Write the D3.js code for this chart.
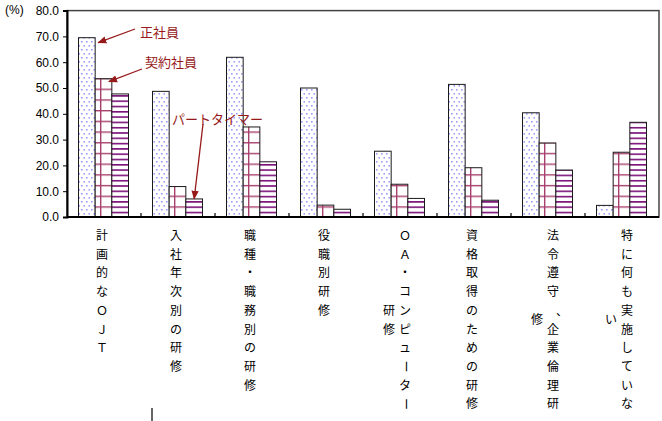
<!DOCTYPE html>
<html>
<head>
<meta charset="utf-8">
<script src="https://cdn.jsdelivr.net/npm/d3@7"></script>
<style>
  body { margin: 0; background: #fff; }
  svg { display: block; }
  .tick text { font-family: Arial, "Liberation Sans", sans-serif; font-size: 12px; fill: #000; }
</style>
</head>
<body>
<div id="chart"></div>
<script>
// categories, one entry per column of stacked vertical text
var categories = ["計画的なOJT", "入社年次別の研修", "職種・職務別の研修", "役職別研修",
                  "OA・コンピューター研修", "資格取得のための研修", "法令遵守、企業倫理研修", "特に何も実施していない"];
var labelColumns = [
    ["計画的なＯＪＴ"],
    ["入社年次別の研修"],
    ["職種・職務別の研修"],
    ["役職別研修"],
    ["ＯＡ・コンピューター", "研修"],
    ["資格取得のための研修"],
    ["法令遵守、企業倫理研", "修"],
    ["特に何も実施していな", "い"]
];
var seriesNames = ["正社員", "契約社員", "パートタイマー"];
var seiShain   = [69.5, 48.7, 61.9, 50.0, 25.5, 51.4, 40.4, 4.5];
var keiyaku    = [53.6, 11.8, 34.9, 4.6, 12.7, 19.1, 28.7, 25.1];
var partTimer  = [47.7, 7.0, 21.4, 3.0, 7.2, 6.5, 18.2, 36.7];
var yTicks = [0, 10, 20, 30, 40, 50, 60, 70, 80];

var W = 662, H = 421;
var margin = {left: 67, right: 3, top: 10.6, bottom: 204};

var svg = d3.select("#chart").append("svg")
    .attr("width", W)
    .attr("height", H);

var defs = svg.append("defs");

// dotted pattern (正社員)
var p1 = defs.append("pattern").attr("id", "pat0")
    .attr("patternUnits", "userSpaceOnUse").attr("width", 5).attr("height", 8);
p1.append("rect").attr("width", 5).attr("height", 8).attr("fill", "#fff");
p1.append("rect").attr("x", 1).attr("y", 1).attr("width", 1.6).attr("height", 1.6).attr("fill", "#9c9cff");
p1.append("rect").attr("x", 3.5).attr("y", 5).attr("width", 1.6).attr("height", 1.6).attr("fill", "#9c9cff");

// grid pattern (契約社員)
var p2 = defs.append("pattern").attr("id", "pat1")
    .attr("patternUnits", "userSpaceOnUse").attr("width", 74).attr("height", 10.7)
    .attr("x", margin.left).attr("y", 217);
p2.append("rect").attr("width", 74).attr("height", 10.7).attr("fill", "#fff");
p2.append("rect").attr("x", 0).attr("y", 0).attr("width", 74).attr("height", 1.4).attr("fill", "#a8406e");
p2.append("rect").attr("x", 33).attr("y", 0).attr("width", 1.4).attr("height", 10.7).attr("fill", "#a8406e");

// horizontal lines pattern (パートタイマー)
var p3 = defs.append("pattern").attr("id", "pat2")
    .attr("patternUnits", "userSpaceOnUse").attr("width", 10).attr("height", 5.3)
    .attr("y", 217);
p3.append("rect").attr("width", 10).attr("height", 5.3).attr("fill", "#fff");
p3.append("rect").attr("y", 0).attr("width", 10).attr("height", 1.6).attr("fill", "#7a1078");

defs.append("marker").attr("id", "arrow")
    .attr("viewBox", "0 0 10 10").attr("refX", 9).attr("refY", 5)
    .attr("markerWidth", 7).attr("markerHeight", 7).attr("orient", "auto")
    .append("path").attr("d", "M0,1 L10,5 L0,9 z").attr("fill", "#971a1a");

var x0 = d3.scaleBand()
    .domain(d3.range(categories.length))
    .range([margin.left, W - margin.right]);

var x1 = d3.scaleBand()
    .domain(d3.range(3))
    .range([11.5, 61.5]);

var y = d3.scaleLinear()
    .domain([0, 80])
    .range([H - margin.bottom, margin.top]);

var plotL = margin.left, plotR = W - margin.right, plotT = margin.top, plotB = H - margin.bottom;

// frame
svg.append("rect")
    .attr("x", plotL).attr("y", plotT)
    .attr("width", plotR - plotL).attr("height", plotB - plotT)
    .attr("fill", "none").attr("stroke", "#444").attr("stroke-width", 1.5);

var series = [seiShain, keiyaku, partTimer];
var bars = [];
series.forEach(function(vals, s) {
    vals.forEach(function(v, i) {
        bars.push({s: s, i: i, v: v});
    });
});

svg.append("g").selectAll("rect")
    .data(bars)
    .enter().append("rect")
    .attr("x", function(d) { return x0(d.i) + x1(d.s); })
    .attr("y", function(d) { return y(d.v); })
    .attr("width", x1.bandwidth())
    .attr("height", function(d) { return y(0) - y(d.v); })
    .attr("fill", function(d) { return "url(#pat" + d.s + ")"; })
    .attr("stroke", "#1a1a1a")
    .attr("stroke-width", 1);

// y axis
var yAxis = svg.append("g")
    .attr("transform", "translate(" + plotL + ",0)")
    .call(d3.axisLeft(y).tickValues(yTicks).tickSize(4).tickPadding(4)
        .tickFormat(d3.format(".1f")));
yAxis.select(".domain").attr("stroke", "#000").attr("stroke-width", 2);
yAxis.selectAll(".tick line").attr("stroke", "#000");

// x axis, inner ticks between categories
var xAxis = svg.append("g");
xAxis.append("line")
    .attr("x1", plotL).attr("x2", plotR)
    .attr("y1", plotB).attr("y2", plotB)
    .attr("stroke", "#000").attr("stroke-width", 2);
xAxis.selectAll(".xt")
    .data(d3.range(1, categories.length))
    .enter().append("line")
    .attr("x1", function(i) { return x0(i); })
    .attr("x2", function(i) { return x0(i); })
    .attr("y1", plotB).attr("y2", plotB - 4)
    .attr("stroke", "#000").attr("stroke-width", 1.2);

// unit label
svg.append("text")
    .attr("x", 5).attr("y", 14)
    .attr("font-family", "Arial, 'Liberation Sans', sans-serif")
    .attr("font-size", 12)
    .text("(%)");

// vertical category labels
var step = 18.7, startY = 240;
labelColumns.forEach(function(cols, i) {
    var cx = x0(i) + x0.bandwidth() / 2;
    var first = cols[0].length;
    cols.forEach(function(str, c) {
        var colX = cols.length === 1 ? cx - 2 : (c === 0 ? cx + 5 : cx - 11);
        var offset = c === 0 ? 0 : (first - str.length) / 2 * step;
        var g = svg.append("g");
        g.selectAll("text")
            .data(Array.from(str))
            .enter().append("text")
            .attr("x", colX)
            .attr("y", function(ch, k) { return startY + offset + k * step; })
            .attr("text-anchor", "middle")
            .attr("font-family", "'Noto Sans CJK JP', sans-serif")
            .attr("font-size", 12)
            .attr("fill", "#000")
            .attr("transform", function(ch, k) {
                var yy = startY + offset + k * step;
                if (ch === "ー") return "rotate(90," + colX + "," + (yy - 4.3) + ")";
                if (ch === "、") return "translate(9,1)";
                return null;
            })
            .text(function(ch) { return ch; });
    });
});

// stray mark under the second category
svg.append("line")
    .attr("x1", 152).attr("x2", 152).attr("y1", 408).attr("y2", 421)
    .attr("stroke", "#000").attr("stroke-width", 1.2);

// annotations with arrows to the first bars
var notes = [
    {text: seriesNames[0], s: 0, i: 0, tx: 140, ty: 37, fromX: 135, fromY: 29, dx: 3, dy: 5},
    {text: seriesNames[1], s: 1, i: 0, tx: 145, ty: 67, fromX: 142, fromY: 69, dx: -3, dy: 3},
    {text: seriesNames[2], s: 2, i: 1, tx: 172, ty: 124, fromX: 203, fromY: 124, dx: 0, dy: 0}
];
var note = svg.append("g");
notes.forEach(function(n) {
    var vals = series[n.s];
    var bx = n.s === 2 ? x0(n.i) + x1(n.s) + x1.bandwidth() / 2 : x0(n.i) + x1(n.s) + x1.bandwidth();
    note.append("line")
        .attr("x1", n.fromX).attr("y1", n.fromY)
        .attr("x2", bx + n.dx).attr("y2", y(vals[n.i]) + n.dy)
        .attr("stroke", "#971a1a").attr("stroke-width", 1.3)
        .attr("marker-end", "url(#arrow)");
    note.append("text")
        .attr("x", n.tx).attr("y", n.ty)
        .attr("font-family", "'Noto Sans CJK JP', sans-serif")
        .attr("font-size", 13)
        .attr("fill", "#971a1a")
        .text(n.text);
});
</script>
</body>
</html>
